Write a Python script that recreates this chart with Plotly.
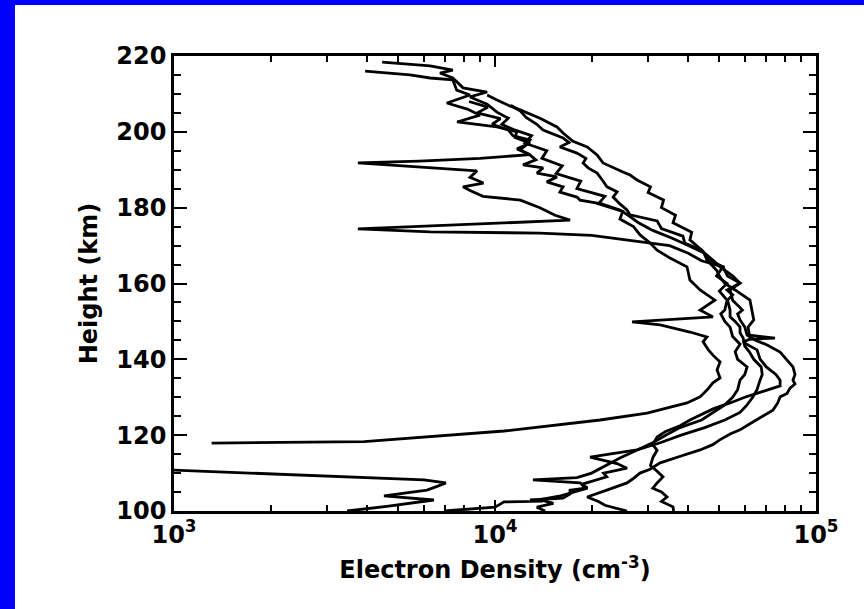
import plotly.graph_objects as go

# ---------------- data (height in km, electron density in cm^-3) ----------------
p1_low_height = [100.0, 101.2, 102.9, 103.5, 104.0, 104.8, 105.5, 106.5, 107.4, 108.2, 110.8, 111.3]
p1_low_density = [3460, 4600, 6450, 5400, 4510, 5300, 6140, 6600, 7030, 6010, 1000, 700]

p1_height = [117.9, 118.3, 121.1, 124.0, 125.8, 128.5, 130.1, 131.9, 133.8, 135.1, 137.2, 139.3, 141.1,
             142.5, 144.6, 145.9, 147.2, 149.1, 149.9, 151.2, 153.0, 155.6, 158.3, 160.9, 164.4, 166.7,
             168.8, 170.7, 172.8, 175.0, 177.0, 179.0, 181.0, 183.0, 185.0, 187.0, 189.0, 191.0, 193.0,
             195.0, 197.0, 199.0, 200.5, 202.0, 203.6, 205.2, 207.3, 209.2, 210.5, 211.6, 214.2, 215.5,
             216.3, 217.4, 218.4]
p1_density = [1310, 3910, 10670, 21250, 29770, 39630, 43540, 45740, 47740, 50250, 49170, 50250, 47740,
              46200, 44490, 45740, 40480, 32700, 26730, 47740, 43540, 48410, 43540, 40480, 39630, 35100,
              31990, 30430, 28310, 27000, 24500, 25000, 21000, 22000, 18000, 18500, 15500, 16200, 14000,
              14500, 12400, 13000, 11500, 10500, 11000, 10140, 9450, 8360, 9450, 7950, 7390, 6740,
              7390, 6280, 4450]

p2_height = [100.0, 101.0, 102.4, 102.6, 102.9, 103.4, 104.5, 105.5, 106.1, 107.4, 108.2, 108.8, 110.0,
             111.5, 113.0, 114.0, 116.0, 118.0, 120.0, 122.0, 124.0, 126.0, 128.0, 130.0, 132.0, 134.5,
             136.0, 138.0, 140.0, 142.0, 144.0, 146.0, 148.5, 150.0, 152.0, 153.0, 155.6, 158.0, 160.0,
             162.0, 164.4, 166.0, 168.0, 170.0, 171.5, 172.7, 173.3, 173.6, 174.4, 175.5, 176.7, 178.0,
             180.0, 182.0, 183.0, 184.5, 185.5, 186.5, 188.0, 189.7, 190.6, 191.8, 192.3, 193.0, 194.0,
             195.5, 197.0, 198.5, 200.0, 201.3, 202.6, 204.4, 206.0, 207.6, 209.7, 211.0, 213.7, 214.2,
             215.0, 216.0]
p2_density = [6940, 10000, 10670, 14120, 12850, 16290, 17130, 17130, 19370, 18400, 13130, 18000, 20000,
              21700, 23300, 24500, 27700, 31000, 34000, 37700, 44000, 47740, 52000, 55000, 57000, 57980,
              60000, 61000, 57000, 56000, 58000, 55000, 53980, 52000, 50500, 52000, 52820, 50000, 52800,
              49000, 51300, 44000, 40000, 35000, 26000, 20000, 13800, 6280, 3740, 7700, 17130, 15390,
              13800, 12000, 9180, 8360, 7950, 9200, 8360, 8790, 6280, 3740, 5800, 8980, 12850,
              11710, 12850, 11540, 11700, 10140, 7620, 8980, 8200, 7080, 8360, 7600, 7390, 6280,
              5430, 3940]

p3_height = [100.0, 101.0, 102.0, 103.0, 104.0, 105.0, 106.0, 107.0, 108.0, 109.0, 110.0, 111.3, 112.5,
             114.2, 115.2, 116.1, 118.0, 120.0, 122.0, 124.0, 126.0, 128.0, 130.0, 132.0, 134.5, 136.0,
             138.0, 140.0, 142.0, 143.5, 145.6, 147.0, 148.5, 150.0, 151.2, 153.0, 155.6, 157.0, 158.3,
             160.1, 162.0, 164.4, 166.0, 168.0, 170.0, 172.0, 174.0, 176.0, 178.0, 179.4, 181.0, 182.0,
             182.8, 184.1, 185.5, 186.8, 188.1, 189.1, 190.5, 191.3, 192.6, 193.9, 195.2, 196.5, 197.8,
             199.0, 200.5, 202.0, 203.5, 205.0, 206.5, 208.0]
p3_density = [14320, 13500, 15200, 13800, 16000, 17500, 19400, 18600, 20500, 22300, 21800, 25780, 24000,
              19780, 23500, 27700, 32700, 38000, 45000, 52000, 57980, 61000, 63500, 65500, 66940, 68000,
              67500, 64000, 62000, 60000, 59300, 58000, 57980, 56000, 54000, 53980, 53000, 55000, 52800,
              57980, 55000, 50250, 48000, 45000, 40000, 35500, 31000, 28000, 26000, 24500, 21500, 18400,
              18000, 15930, 16290, 14500, 15600, 13510, 14120, 12230, 13400, 12850, 11980, 12500, 12850,
              11360, 11000, 9800, 10400, 8800, 9500, 8300]

p4_height = [100.0, 101.5, 102.5, 103.7, 105.5, 107.4, 108.5, 110.0, 111.0, 112.7, 114.5, 116.1, 117.5,
             118.7, 120.3, 121.4, 123.0, 124.5, 126.6, 128.5, 130.1, 131.0, 132.4, 133.5, 134.5, 136.0,
             138.0, 139.8, 141.9, 143.8, 145.0, 146.4, 148.5, 150.4, 152.0, 153.0, 155.6, 158.3, 160.1,
             162.0, 164.4, 166.0, 168.8, 170.7, 172.5, 174.5, 176.5, 178.1, 179.4, 181.0, 182.8, 184.2,
             185.5, 187.5, 189.1, 190.5, 191.8, 193.0, 194.4, 196.0, 197.2, 198.4, 200.5, 202.0, 203.8,
             205.5, 207.0]
p4_density = [25780, 22000, 21000, 19370, 22300, 25780, 26900, 28300, 30400, 32700, 38000, 43540, 47700,
              50000, 54000, 57980, 62300, 66900, 73430, 76000, 77300, 81250, 83000, 86020, 84770, 86020,
              84770, 81250, 77300, 70440, 65000, 61000, 60000, 58000, 57000, 59000, 55000, 54000, 57980,
              53000, 51330, 47000, 44000, 39000, 38500, 33000, 32000, 26340, 25780, 24500, 23330, 24000,
              22330, 21500, 20800, 19500, 18810, 19200, 18000, 15930, 17000, 16290, 14120, 13500, 12500,
              12000, 11200]

p5_height = [100.0, 101.1, 102.5, 103.7, 105.0, 106.0, 107.4, 109.0, 110.5, 112.0, 114.2, 116.0, 117.5,
             119.5, 121.0, 122.5, 124.0, 125.5, 127.0, 128.5, 130.0, 131.5, 133.0, 134.5, 136.0, 138.0,
             140.0, 142.5, 144.5, 145.3, 145.6, 146.4, 148.5, 150.4, 153.0, 155.6, 158.3, 160.0, 161.7,
             163.5, 166.2, 168.5, 171.5, 173.5, 176.0, 178.0, 180.0, 182.0, 184.0, 185.5, 187.3, 188.6,
             189.4, 191.8, 193.9, 196.0, 197.5, 199.7, 201.3, 203.6, 205.8, 207.0, 208.4, 209.7]
p5_density = [36000, 35860, 33000, 34360, 33000, 31000, 31990, 33370, 32000, 30500, 31070, 32000, 31000,
              31990, 34000, 37700, 40500, 44000, 48000, 54000, 60000, 68000, 77300, 77300, 75000, 70000,
              67000, 65510, 59270, 62000, 74510, 62000, 61420, 64000, 63180, 62270, 55970, 52000, 50250,
              49000, 45740, 44500, 40480, 41000, 35860, 36500, 33000, 33500, 30000, 30500, 27700, 26340,
              25040, 21700, 20800, 19370, 17500, 16290, 15600, 13810, 11980, 11000, 10140, 9450]

profiles = [
    (p1_low_density, p1_low_height),
    (p1_density, p1_height),
    (p2_density, p2_height),
    (p3_density, p3_height),
    (p4_density, p4_height),
    (p5_density, p5_height),
]
for d, h in profiles:
    assert len(d) == len(h), (len(d), len(h))

x_major = [1e3, 1e4, 1e5]
x_major_text = ["10<sup>3</sup>", "10<sup>4</sup>", "10<sup>5</sup>"]
x_minor = [m * 10 ** e for e in (3, 4) for m in range(2, 10)]

# ---------------- figure ----------------
fig = go.Figure()
for d, h in profiles:
    fig.add_trace(go.Scatter(x=d, y=h, mode="lines",
                             line=dict(color="black", width=2.8),
                             showlegend=False, hoverinfo="skip"))

font_family = "DejaVu Sans"
tick_font = dict(family=font_family, size=24, color="black", weight="bold")
title_font = dict(family=font_family, size=24, color="black", weight="bold")

fig.update_xaxes(
    type="log", range=[3, 5],
    tickvals=x_major, ticktext=x_major_text,
    ticks="inside", ticklen=11, tickwidth=2, tickcolor="black",
    showline=True, linewidth=2.5, linecolor="black", mirror="ticks",
    showgrid=False, zeroline=False,
    minor=dict(tickvals=x_minor, ticks="inside", ticklen=6, tickwidth=2,
               tickcolor="black", showgrid=False),
    tickfont=tick_font,
    title=dict(text="Electron Density (cm<sup>-3</sup>)", font=title_font, standoff=14),
)
fig.update_yaxes(
    range=[100, 220], tick0=100, dtick=20,
    ticks="inside", ticklen=13, tickwidth=2, tickcolor="black",
    showline=True, linewidth=2.5, linecolor="black", mirror="ticks",
    showgrid=False, zeroline=False,
    minor=dict(dtick=5, ticks="inside", ticklen=7, tickwidth=2,
               tickcolor="black", showgrid=False),
    tickfont=tick_font,
    title=dict(text="Height (km)", font=title_font, standoff=12),
)

# blue slide border (left and top strips)
fig.add_shape(type="rect", xref="paper", yref="paper",
              x0=-0.28, x1=-0.2477, y0=-0.25, y1=1.13,
              fillcolor="#0000FF", line=dict(width=0), layer="above")
fig.add_shape(type="rect", xref="paper", yref="paper",
              x0=-0.28, x1=1.1, y0=1.1121, y1=1.13,
              fillcolor="#0000FF", line=dict(width=0), layer="above")

fig.update_layout(
    width=864, height=609,
    margin=dict(l=174, r=48, t=56, b=98),
    paper_bgcolor="white", plot_bgcolor="white",
)

fig.write_html("out.html")
